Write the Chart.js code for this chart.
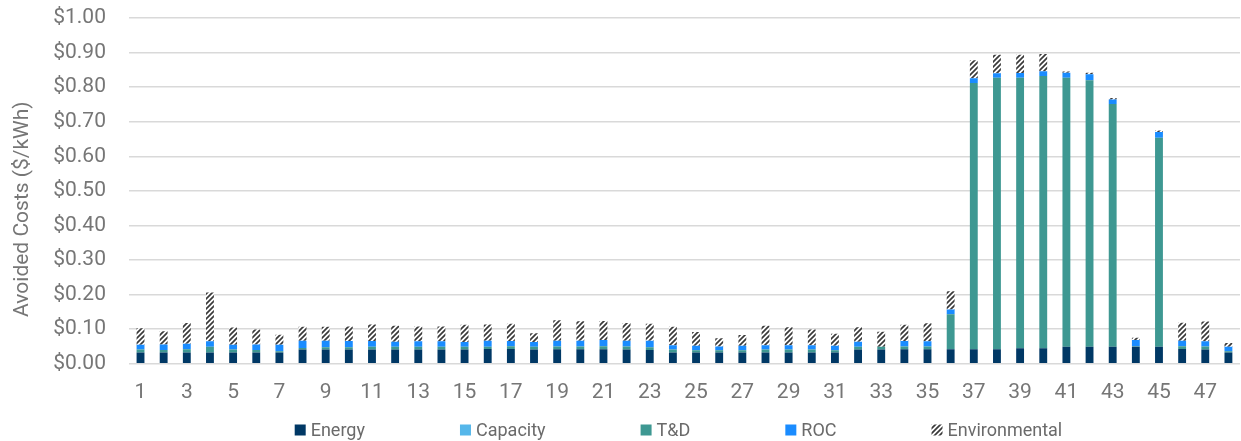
<!DOCTYPE html>
<html><head><meta charset="utf-8">
<script src="https://cdn.jsdelivr.net/npm/chart.js@4/dist/chart.umd.min.js"></script>
<style>html,body{margin:0;padding:0;background:#fff}#wrap{width:1241px;height:441px}</style>
</head><body><div id="wrap"><canvas id="c" width="1241" height="441"></canvas></div>
<script>
const categories = Array.from({length:48},(_,i)=>String(i+1));
const energy = [0.033,0.033,0.033,0.033,0.033,0.033,0.033,0.041,0.041,0.041,0.041,0.041,0.041,0.041,0.041,0.043,0.043,0.041,0.042,0.042,0.042,0.041,0.040,0.033,0.033,0.033,0.033,0.033,0.033,0.033,0.033,0.041,0.041,0.042,0.042,0.042,0.042,0.042,0.045,0.045,0.049,0.049,0.049,0.049,0.049,0.043,0.041,0.033];
const capacity = [0,0,0,0,0,0,0,0,0,0,0,0,0,0,0,0,0,0,0,0,0,0,0,0,0,0,0,0,0,0,0,0,0,0,0,0,0,0,0,0,0,0,0,0,0,0,0,0];
const td = [0.008,0.007,0.009,0.016,0.008,0.007,0.003,0.005,0.007,0.007,0.008,0.008,0.008,0.008,0.008,0.006,0.008,0.008,0.008,0.008,0.009,0.009,0.008,0.008,0.006,0.006,0.006,0.008,0.008,0.008,0.006,0.008,0.008,0.008,0.008,0.101,0.770,0.785,0.782,0.787,0.778,0.771,0.702,0.002,0.605,0.008,0.009,0.003];
const roc = [0.014,0.016,0.016,0.016,0.014,0.016,0.019,0.021,0.019,0.018,0.017,0.015,0.016,0.016,0.014,0.018,0.015,0.014,0.017,0.017,0.018,0.017,0.019,0.013,0.013,0.011,0.013,0.013,0.013,0.013,0.013,0.015,0.000,0.016,0.015,0.014,0.014,0.013,0.014,0.014,0.015,0.017,0.013,0.018,0.016,0.016,0.015,0.013];
const environmental = [0.048,0.038,0.060,0.141,0.050,0.043,0.029,0.040,0.040,0.042,0.048,0.046,0.043,0.043,0.050,0.047,0.050,0.025,0.059,0.056,0.055,0.051,0.049,0.053,0.040,0.024,0.031,0.056,0.052,0.045,0.035,0.042,0.044,0.047,0.052,0.053,0.052,0.054,0.053,0.050,0.003,0.005,0.005,0.006,0.005,0.052,0.057,0.011];
const yTicks = [0,0.1,0.2,0.3,0.4,0.5,0.6,0.7,0.8,0.9,1.0];

const FONT='Roboto, "Liberation Sans", sans-serif';
const TXT='#767676';
function hatch(){
  const p=document.createElement('canvas');p.width=5;p.height=5;
  const g=p.getContext('2d');
  g.fillStyle='#ffffff';g.fillRect(0,0,5,5);
  g.strokeStyle='#3a3a3a';g.lineWidth=1.7;
  g.beginPath();
  g.moveTo(0,5);g.lineTo(5,0);
  g.moveTo(-2.5,2.5);g.lineTo(2.5,-2.5);
  g.moveTo(2.5,7.5);g.lineTo(7.5,2.5);
  g.stroke();
  return g.createPattern(p,'repeat');
}
const ctx=document.getElementById('c').getContext('2d');
const hp=hatch();
const common={barPercentage:0.34,categoryPercentage:1,borderWidth:0};

const customLegend={
  id:'customLegend',
  afterDraw(chart){
    const c=chart.ctx, a=chart.chartArea;
    const items=chart.data.datasets.map(d=>({text:d.label,color:d.backgroundColor}));
    const box=11, gapText=5, gap=95, y=430;
    c.save();
    c.font='18px '+FONT;
    c.textBaseline='middle';
    const widths=items.map(it=>box+gapText+c.measureText(it.text).width);
    const total=widths.reduce((s,w)=>s+w,0)+gap*(items.length-1);
    let x=(a.left+a.right)/2-6-total/2;
    items.forEach((it,i)=>{
      c.fillStyle=it.color;
      c.fillRect(x,y-box/2,box,box);
      c.fillStyle='#6a6a6a';
      c.fillText(it.text,x+box+gapText,y+1);
      x+=widths[i]+gap;
    });
    c.restore();
  }
};

new Chart(ctx,{
  type:'bar',
  data:{labels:categories,datasets:[
    {label:'Energy',data:energy,backgroundColor:'#003865',...common},
    {label:'Capacity',data:capacity,backgroundColor:'#56B7EA',...common},
    {label:'T&D',data:td,backgroundColor:'#3E9892',...common},
    {label:'ROC',data:roc,backgroundColor:'#1A8CFF',...common},
    {label:'Environmental',data:environmental,backgroundColor:hp,...common}
  ]},
  plugins:[customLegend],
  options:{
    responsive:false,animation:false,
    layout:{padding:{left:10,right:1,top:18,bottom:34}},
    plugins:{legend:{display:false},tooltip:{enabled:false}},
    scales:{
      x:{stacked:true,grid:{display:true,drawOnChartArea:false,drawTicks:true,tickLength:14,tickColor:'rgba(0,0,0,0)',color:'rgba(0,0,0,0)'},border:{display:false},
        ticks:{autoSkip:false,maxRotation:0,padding:2,color:TXT,font:{family:FONT,size:21},
          callback:function(v,i){return i%2===0?categories[i]:'';}}},
      y:{stacked:true,min:0,max:1,
        afterBuildTicks:ax=>{ax.ticks=yTicks.map(v=>({value:v}));},
        grid:{color:'#d9d9d9',lineWidth:1.5,drawTicks:true,tickLength:21,tickColor:'rgba(0,0,0,0)'},border:{display:false},
        ticks:{padding:2,color:TXT,font:{family:FONT,size:21},
          callback:v=>'$'+v.toFixed(2)},
        title:{display:true,text:'Avoided Costs ($/kWh)\u00a0\u00a0\u00a0\u00a0\u00a0\u00a0\u00a0',color:TXT,font:{family:FONT,size:21},padding:{top:0,bottom:16}}}
    }
  }
});
</script></body></html>
